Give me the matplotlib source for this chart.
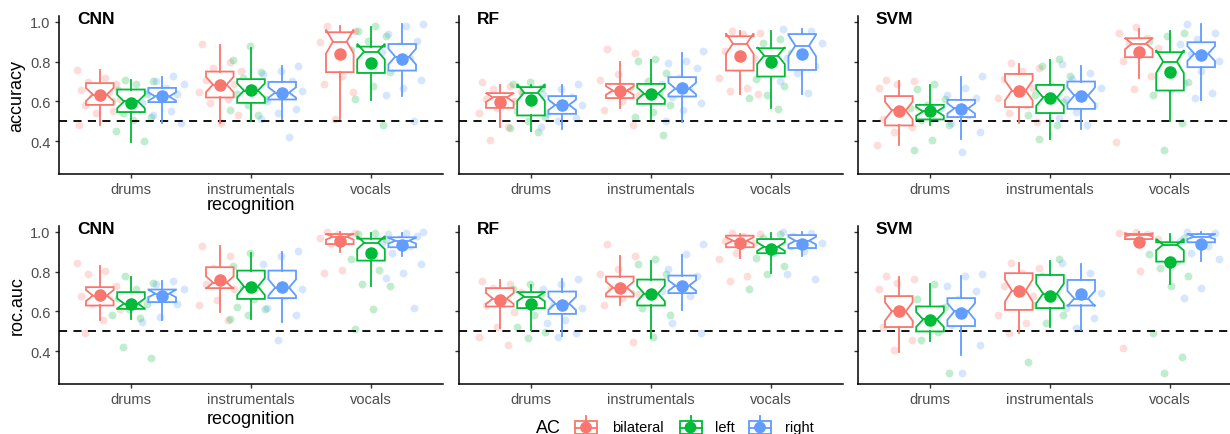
import matplotlib
matplotlib.use("Agg")
import matplotlib.pyplot as plt
import numpy as np
from matplotlib.patches import Rectangle, Circle
from matplotlib.lines import Line2D

plt.rcParams['font.family'] = ['Liberation Sans', 'DejaVu Sans']

# ---------------- data ----------------
classifiers = ["CNN", "RF", "SVM"]
metrics = ["accuracy", "roc.auc"]
recognition = ["drums", "instrumentals", "vocals"]
ac_levels = ["bilateral", "left", "right"]
ac_colors = ["#F8766D", "#00BA38", "#619CFF"]
y_ticks = [0.4, 0.6, 0.8, 1.0]
chance_level = 0.5
n_runs = 28  # used for notch width (median +/- 1.58*IQR/sqrt(n))

# each entry: rows = recognition (drums, instrumentals, vocals), cols = AC (bilateral, left, right)
q1 = {
    ("CNN", "accuracy"): [[0.583, 0.547, 0.597], [0.620, 0.593, 0.610], [0.747, 0.743, 0.755]],
    ("RF", "accuracy"):  [[0.568, 0.530, 0.538], [0.617, 0.588, 0.625], [0.755, 0.725, 0.758]],
    ("SVM", "accuracy"): [[0.480, 0.510, 0.522], [0.572, 0.542, 0.563], [0.822, 0.655, 0.772]],
    ("CNN", "roc.auc"):  [[0.630, 0.613, 0.647], [0.717, 0.663, 0.667], [0.938, 0.855, 0.922]],
    ("RF", "roc.auc"):   [[0.625, 0.617, 0.588], [0.675, 0.630, 0.692], [0.922, 0.892, 0.918]],
    ("SVM", "roc.auc"):  [[0.522, 0.500, 0.527], [0.608, 0.617, 0.630], [0.963, 0.850, 0.947]],
}
median = {
    ("CNN", "accuracy"): [[0.635, 0.600, 0.625], [0.685, 0.655, 0.645], [0.900, 0.850, 0.825]],
    ("RF", "accuracy"):  [[0.620, 0.645, 0.583], [0.655, 0.640, 0.665], [0.890, 0.830, 0.880]],
    ("SVM", "accuracy"): [[0.555, 0.550, 0.565], [0.655, 0.620, 0.630], [0.890, 0.800, 0.840]],
    ("CNN", "roc.auc"):  [[0.680, 0.640, 0.690], [0.745, 0.725, 0.720], [0.975, 0.945, 0.955]],
    ("RF", "roc.auc"):   [[0.665, 0.675, 0.640], [0.720, 0.690, 0.730], [0.955, 0.925, 0.955]],
    ("SVM", "roc.auc"):  [[0.600, 0.560, 0.600], [0.705, 0.690, 0.665], [0.985, 0.935, 0.975]],
}
q3 = {
    ("CNN", "accuracy"): [[0.692, 0.660, 0.668], [0.750, 0.712, 0.698], [0.947, 0.875, 0.888]],
    ("RF", "accuracy"):  [[0.642, 0.672, 0.627], [0.688, 0.688, 0.722], [0.927, 0.867, 0.938]],
    ("SVM", "accuracy"): [[0.627, 0.583, 0.608], [0.738, 0.683, 0.700], [0.917, 0.847, 0.897]],
    ("CNN", "roc.auc"):  [[0.722, 0.697, 0.710], [0.822, 0.805, 0.805], [0.988, 0.965, 0.972]],
    ("RF", "roc.auc"):   [[0.717, 0.697, 0.700], [0.775, 0.760, 0.780], [0.980, 0.963, 0.983]],
    ("SVM", "roc.auc"):  [[0.677, 0.625, 0.667], [0.792, 0.783, 0.758], [0.988, 0.947, 0.988]],
}
whisker_low = {
    ("CNN", "accuracy"): [[0.480, 0.397, 0.493], [0.493, 0.502, 0.513], [0.513, 0.605, 0.627]],
    ("RF", "accuracy"):  [[0.472, 0.450, 0.463], [0.567, 0.513, 0.497], [0.638, 0.567, 0.638]],
    ("SVM", "accuracy"): [[0.380, 0.483, 0.413], [0.493, 0.410, 0.463], [0.718, 0.500, 0.605]],
    ("CNN", "roc.auc"):  [[0.555, 0.563, 0.555], [0.597, 0.563, 0.547], [0.897, 0.727, 0.880]],
    ("RF", "roc.auc"):   [[0.517, 0.505, 0.475], [0.630, 0.467, 0.605], [0.867, 0.792, 0.877]],
    ("SVM", "roc.auc"):  [[0.397, 0.452, 0.380], [0.493, 0.522, 0.505], [0.947, 0.738, 0.855]],
}
whisker_high = {
    ("CNN", "accuracy"): [[0.758, 0.708, 0.725], [0.883, 0.870, 0.780], [0.980, 0.975, 0.988]],
    ("RF", "accuracy"):  [[0.683, 0.683, 0.683], [0.800, 0.808, 0.842], [0.952, 0.952, 0.963]],
    ("SVM", "accuracy"): [[0.705, 0.683, 0.725], [0.788, 0.808, 0.780], [0.963, 0.952, 0.988]],
    ("CNN", "roc.auc"):  [[0.830, 0.772, 0.755], [0.927, 0.893, 0.900], [1.000, 0.993, 0.993]],
    ("RF", "roc.auc"):   [[0.760, 0.733, 0.763], [0.877, 0.855, 0.885], [0.988, 0.993, 1.000]],
    ("SVM", "roc.auc"):  [[0.772, 0.738, 0.780], [0.843, 0.855, 0.838], [1.000, 0.988, 1.000]],
}
mean = {
    ("CNN", "accuracy"): [[0.630, 0.592, 0.625], [0.682, 0.658, 0.642], [0.838, 0.793, 0.815]],
    ("RF", "accuracy"):  [[0.597, 0.605, 0.583], [0.655, 0.638, 0.667], [0.827, 0.797, 0.838]],
    ("SVM", "accuracy"): [[0.553, 0.550, 0.563], [0.652, 0.617, 0.627], [0.847, 0.747, 0.833]],
    ("CNN", "roc.auc"):  [[0.683, 0.638, 0.680], [0.760, 0.725, 0.722], [0.955, 0.892, 0.933]],
    ("RF", "roc.auc"):   [[0.658, 0.638, 0.635], [0.717, 0.688, 0.730], [0.942, 0.913, 0.938]],
    ("SVM", "roc.auc"):  [[0.602, 0.558, 0.593], [0.705, 0.680, 0.688], [0.950, 0.850, 0.938]],
}
points = {
    ("CNN", "accuracy"): [
        [[0.76, 0.72, 0.70, 0.69, 0.68, 0.66, 0.65, 0.62, 0.61, 0.60, 0.58, 0.55, 0.54, 0.48],
         [0.71, 0.705, 0.69, 0.66, 0.64, 0.61, 0.60, 0.56, 0.54, 0.52, 0.505, 0.45, 0.40],
         [0.73, 0.705, 0.69, 0.67, 0.655, 0.64, 0.61, 0.59, 0.55, 0.53, 0.49]],
        [[0.89, 0.80, 0.77, 0.755, 0.74, 0.71, 0.69, 0.68, 0.65, 0.61, 0.59, 0.53, 0.49],
         [0.88, 0.81, 0.75, 0.72, 0.69, 0.66, 0.64, 0.61, 0.58, 0.555, 0.53],
         [0.78, 0.755, 0.74, 0.705, 0.67, 0.655, 0.63, 0.60, 0.56, 0.54, 0.51, 0.42]],
        [[0.98, 0.955, 0.93, 0.90, 0.86, 0.83, 0.78, 0.73, 0.69, 0.65, 0.51],
         [0.98, 0.955, 0.93, 0.905, 0.86, 0.82, 0.78, 0.75, 0.68, 0.61, 0.48],
         [0.99, 0.98, 0.94, 0.905, 0.88, 0.85, 0.82, 0.77, 0.71, 0.67, 0.63, 0.50]]],
    ("RF", "accuracy"): [
        [[0.70, 0.68, 0.665, 0.65, 0.63, 0.61, 0.60, 0.565, 0.54, 0.47, 0.405],
         [0.70, 0.69, 0.67, 0.65, 0.61, 0.58, 0.55, 0.52, 0.50, 0.465, 0.445],
         [0.69, 0.665, 0.64, 0.62, 0.60, 0.58, 0.555, 0.54, 0.515, 0.50, 0.47]],
        [[0.865, 0.845, 0.74, 0.71, 0.67, 0.64, 0.63, 0.60, 0.555, 0.48],
         [0.815, 0.805, 0.745, 0.705, 0.68, 0.645, 0.615, 0.58, 0.545, 0.52, 0.43],
         [0.855, 0.805, 0.795, 0.77, 0.72, 0.69, 0.655, 0.62, 0.59, 0.555, 0.50]],
        [[0.955, 0.945, 0.94, 0.855, 0.82, 0.77, 0.72, 0.67, 0.655, 0.64],
         [0.915, 0.895, 0.845, 0.78, 0.715, 0.68, 0.63, 0.615, 0.56],
         [0.965, 0.955, 0.92, 0.895, 0.865, 0.82, 0.78, 0.745, 0.705, 0.645]]],
    ("SVM", "accuracy"): [
        [[0.71, 0.705, 0.69, 0.67, 0.61, 0.59, 0.57, 0.54, 0.51, 0.47, 0.445, 0.38],
         [0.69, 0.665, 0.61, 0.58, 0.565, 0.53, 0.505, 0.48, 0.405, 0.355],
         [0.73, 0.67, 0.63, 0.615, 0.58, 0.565, 0.53, 0.49, 0.445, 0.345]],
        [[0.795, 0.77, 0.755, 0.715, 0.67, 0.645, 0.615, 0.58, 0.54, 0.495],
         [0.815, 0.78, 0.73, 0.68, 0.63, 0.595, 0.565, 0.53, 0.48, 0.41],
         [0.79, 0.745, 0.715, 0.67, 0.64, 0.61, 0.58, 0.545, 0.515, 0.48]],
        [[0.975, 0.945, 0.92, 0.895, 0.87, 0.85, 0.805, 0.73, 0.665, 0.395],
         [0.945, 0.93, 0.905, 0.83, 0.755, 0.70, 0.665, 0.63, 0.49, 0.355],
         [0.99, 0.945, 0.915, 0.89, 0.865, 0.84, 0.805, 0.755, 0.695, 0.645, 0.615]]],
    ("CNN", "roc.auc"): [
        [[0.845, 0.805, 0.79, 0.73, 0.70, 0.68, 0.665, 0.64, 0.61, 0.555, 0.49],
         [0.78, 0.745, 0.715, 0.67, 0.64, 0.61, 0.58, 0.565, 0.42, 0.365],
         [0.755, 0.74, 0.715, 0.69, 0.665, 0.64, 0.57, 0.545]],
        [[0.93, 0.88, 0.82, 0.78, 0.755, 0.74, 0.715, 0.66, 0.63, 0.555],
         [0.895, 0.83, 0.78, 0.72, 0.69, 0.665, 0.62, 0.61, 0.58, 0.56],
         [0.905, 0.88, 0.84, 0.79, 0.755, 0.715, 0.68, 0.615, 0.58, 0.455]],
        [[1.0, 0.995, 0.99, 0.97, 0.955, 0.94, 0.895, 0.81, 0.795],
         [0.995, 0.99, 0.965, 0.915, 0.865, 0.81, 0.74, 0.73, 0.61, 0.51],
         [1.0, 0.995, 0.99, 0.98, 0.965, 0.945, 0.93, 0.895, 0.84, 0.795, 0.77, 0.615]]],
    ("RF", "roc.auc"): [
        [[0.755, 0.74, 0.72, 0.70, 0.665, 0.63, 0.595, 0.52, 0.47, 0.43],
         [0.74, 0.715, 0.69, 0.655, 0.615, 0.58, 0.52, 0.495, 0.465],
         [0.765, 0.74, 0.715, 0.69, 0.645, 0.615, 0.555, 0.54, 0.49, 0.47]],
        [[0.94, 0.88, 0.815, 0.79, 0.755, 0.715, 0.69, 0.67, 0.63, 0.445],
         [0.865, 0.84, 0.79, 0.745, 0.695, 0.665, 0.615, 0.58, 0.47],
         [0.94, 0.89, 0.815, 0.78, 0.74, 0.705, 0.68, 0.54, 0.49]],
        [[0.995, 0.99, 0.98, 0.955, 0.945, 0.895, 0.865, 0.78, 0.755],
         [0.99, 0.97, 0.93, 0.895, 0.87, 0.83, 0.79, 0.715],
         [1.0, 0.995, 0.98, 0.945, 0.905, 0.79, 0.765]]],
    ("SVM", "roc.auc"): [
        [[0.78, 0.765, 0.745, 0.715, 0.67, 0.64, 0.615, 0.56, 0.52, 0.455, 0.405],
         [0.74, 0.665, 0.62, 0.58, 0.545, 0.495, 0.455, 0.29],
         [0.79, 0.78, 0.73, 0.705, 0.665, 0.615, 0.565, 0.53, 0.43, 0.29]],
        [[0.845, 0.82, 0.795, 0.73, 0.68, 0.63, 0.58, 0.54, 0.49],
         [0.865, 0.78, 0.73, 0.68, 0.63, 0.58, 0.54, 0.345],
         [0.845, 0.795, 0.745, 0.695, 0.665, 0.615, 0.565, 0.515]],
        [[1.0, 0.995, 0.99, 0.98, 0.965, 0.805, 0.415],
         [0.97, 0.94, 0.89, 0.855, 0.82, 0.78, 0.73, 0.49, 0.37, 0.29],
         [1.0, 0.995, 0.98, 0.955, 0.93, 0.895, 0.865, 0.72, 0.67]]],
}

# ---------------- layout ----------------
W, H = 1230, 435
fig = plt.figure(figsize=(W / 100, H / 100), dpi=100)

left_px = [59, 459, 858]
rows_px = [(17, 175), (227, 385)]
panel_w = 384
ylim = (0.2365, 1.0285)
dodge = [-0.26, 0.0, 0.26]
box_w = 0.23
jitter_half = 0.19
lw = 1.3
tick_grey = "#4D4D4D"


def jitter_offsets(n, phase):
    k = np.arange(n)
    return (((k * 0.6180339887 + phase) % 1.0) - 0.5) * 2 * jitter_half


for r, metric in enumerate(metrics):
    top, bot = rows_px[r]
    for c, clf in enumerate(classifiers):
        ax = fig.add_axes([left_px[c] / W, 1 - bot / H, panel_w / W, (bot - top) / H])
        key = (clf, metric)
        for i, cat in enumerate(recognition):
            for j, lev in enumerate(ac_levels):
                col = ac_colors[j]
                xpos = (i + 1) + dodge[j]
                pts = np.array(points[key][i][j])
                xs = xpos + jitter_offsets(len(pts), 0.37 * (3 * i + j) + 0.11 * c)
                ax.scatter(xs, pts, s=32, color=col, alpha=0.25, linewidths=0, zorder=1)
                a, m, b = q1[key][i][j], median[key][i][j], q3[key][i][j]
                half = 1.58 * (b - a) / np.sqrt(n_runs)
                st = dict(med=m, q1=a, q3=b,
                          whislo=whisker_low[key][i][j], whishi=whisker_high[key][i][j],
                          cilo=m - half, cihi=m + half, mean=mean[key][i][j], fliers=[])
                ax.bxp([st], positions=[xpos], widths=box_w, shownotches=True,
                       showmeans=True, showcaps=False, showfliers=False,
                       patch_artist=True, manage_ticks=False, zorder=3,
                       boxprops=dict(facecolor="white", edgecolor=col, linewidth=lw),
                       whiskerprops=dict(color=col, linewidth=lw),
                       medianprops=dict(color=col, linewidth=lw),
                       meanprops=dict(marker="o", markerfacecolor=col,
                                      markeredgecolor=col, markersize=8))
        ax.axhline(chance_level, color="black", lw=1.3, ls=(0, (4.5, 3.5)), zorder=2)
        ax.set_xlim(0.4, 3.6)
        ax.set_ylim(*ylim)
        ax.set_xticks([1, 2, 3])
        ax.set_xticklabels(recognition)
        ax.set_yticks(y_ticks)
        if c == 0:
            ax.set_yticklabels([f"{t:.1f}" for t in y_ticks])
        else:
            ax.set_yticklabels([])
        ax.tick_params(axis="both", length=3, width=1.0, color="#333333",
                       labelcolor=tick_grey, labelsize=10.5, pad=3)
        for s in ["top", "right"]:
            ax.spines[s].set_visible(False)
        for s in ["left", "bottom"]:
            ax.spines[s].set_linewidth(1.1)
            ax.spines[s].set_color("black")
        ax.set_facecolor("none")
        ax.text(0.047, 0.985, clf, transform=ax.transAxes, fontsize=12.5,
                fontweight="bold", ha="left", va="center")

# overlay in pixel coordinates for labels and legend
ov = fig.add_axes([0, 0, 1, 1], zorder=10)
ov.set_xlim(0, W)
ov.set_ylim(H, 0)
ov.axis("off")
ov.patch.set_alpha(0)

ov.text(17, (rows_px[0][0] + rows_px[0][1]) / 2, metrics[0], rotation=90,
        ha="center", va="center", fontsize=13)
ov.text(17, (rows_px[1][0] + rows_px[1][1]) / 2, metrics[1], rotation=90,
        ha="center", va="center", fontsize=13)
ov.text(left_px[0] + panel_w / 2, 206, "recognition", ha="center", va="center", fontsize=13)
ov.text(left_px[0] + panel_w / 2, 420, "recognition", ha="center", va="center", fontsize=13)

# legend
ly = 428.5
ov.text(536, ly, "AC", ha="left", va="center", fontsize=13)
key_x = [586, 690.5, 760]
label_x = [612, 715, 785]
kh = 26
for j, lev in enumerate(ac_levels):
    col = ac_colors[j]
    kx = key_x[j]
    ov.add_line(Line2D([kx, kx], [ly - 0.45 * kh, ly + 0.45 * kh], color=col, lw=lw, zorder=1))
    ov.add_patch(Rectangle((kx - 11, ly - 0.25 * kh), 22, 0.5 * kh, facecolor="white",
                           edgecolor=col, lw=lw, zorder=2))
    ov.add_line(Line2D([kx - 11, kx + 11], [ly, ly], color=col, lw=lw, zorder=3))
    ov.add_patch(Circle((kx, ly), 5.2, facecolor=col, edgecolor=col, zorder=4))
    ov.text(label_x[j], ly, lev, ha="left", va="center", fontsize=10.5)

fig.savefig("out.png", dpi=100)
